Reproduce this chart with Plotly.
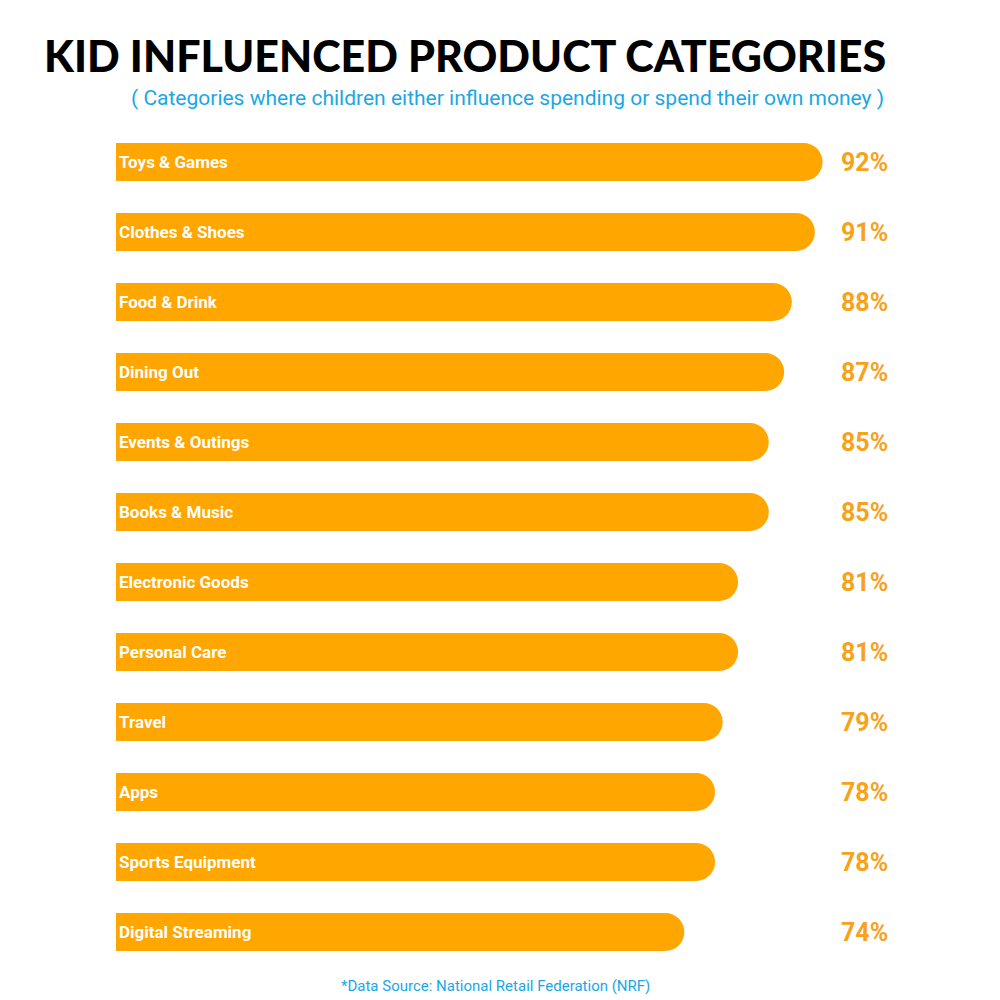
import plotly.graph_objects as go

categories = ["Toys & Games","Clothes & Shoes","Food & Drink","Dining Out","Events & Outings",
              "Books & Music","Electronic Goods","Personal Care","Travel","Apps",
              "Sports Equipment","Digital Streaming"]
values = [92,91,88,87,85,85,81,81,79,78,78,74]
value_labels = [f"{v}%" for v in values]

orange = "#FFA600"
fig = go.Figure()
fig.add_bar(y=categories, x=values, orientation="h", marker=dict(color=orange, cornerradius=19, line_width=0),
            hoverinfo="skip")
fig.add_bar(y=categories, x=[v-6 for v in values], orientation="h", marker=dict(color=orange, line_width=0),
            text=[f"<b>{c}</b>" for c in categories], textposition="inside", insidetextanchor="start",
            textfont=dict(color="white", size=17, family="Roboto"), hoverinfo="skip")

for c, t in zip(categories, value_labels):
    fig.add_annotation(x=94.2, y=c, text=f"<b>{t}</b>", showarrow=False, xanchor="left",
                       font=dict(color="#F7A21B", size=25, family="Roboto"))

fig.update_layout(
    width=1000, height=1000, barmode="overlay", bargap=0.457, showlegend=False,
    plot_bgcolor="white", paper_bgcolor="white",
    margin=dict(l=108, r=124, t=119, b=41),
    xaxis=dict(range=[0,100], visible=False),
    yaxis=dict(autorange="reversed", visible=False),
    uniformtext=dict(minsize=10, mode="show"),
)
fig.add_annotation(x=-0.0964, y=1.0857, xref="paper", yref="paper", xanchor="left", yanchor="middle",
                   text="<b>KID INFLUENCED PRODUCT CATEGORIES</b>", showarrow=False,
                   font=dict(size=43, color="black", family="Lato Black, Lato, Roboto"))
fig.add_annotation(x=0.5104, y=1.0345, xref="paper", yref="paper", yanchor="middle",
                   text="( Categories where children either influence spending or spend their own money )",
                   showarrow=False, font=dict(size=21, color="#1AA7E4", family="Roboto"))
fig.add_annotation(x=0.4935, y=-0.0226, xref="paper", yref="paper", yanchor="middle",
                   text="*Data Source: National Retail Federation (NRF)",
                   showarrow=False, font=dict(size=15, color="#1AA7E4", family="Roboto"))
fig.write_html("out.html")
